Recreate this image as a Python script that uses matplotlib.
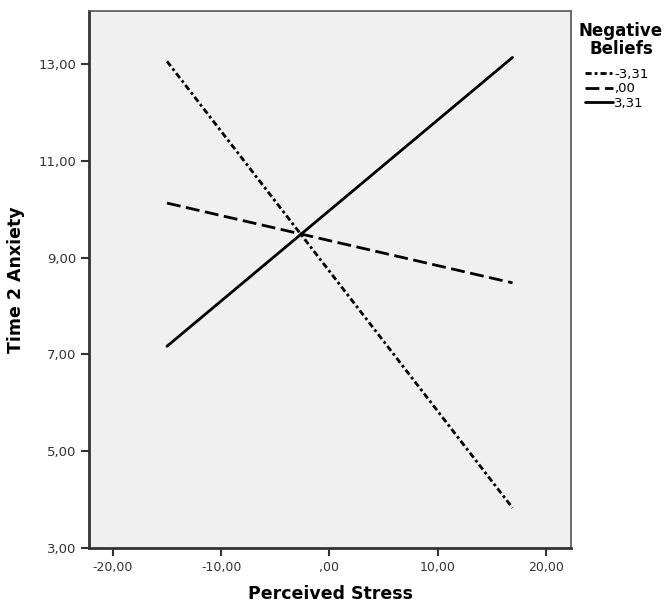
import matplotlib
matplotlib.use("Agg")
import matplotlib.pyplot as plt

# simple slopes: anxiety at low / mean / high negative beliefs
stress = [-15.0, 16.9]
groups = ["-3,31", ",00", "3,31"]
anxiety = {
    "-3,31": [13.06, 3.83],
    ",00": [10.13, 8.48],
    "3,31": [7.17, 13.14],
}
styles = {
    "-3,31": (0, (2.2, 1.1, 1.0, 1.1)),
    ",00": (0, (5, 2)),
    "3,31": "-",
}

xticks = [-20, -10, 0, 10, 20]
xticklabels = ["-20,00", "-10,00", ",00", "10,00", "20,00"]
yticks = [3, 5, 7, 9, 11, 13]
yticklabels = ["3,00", "5,00", "7,00", "9,00", "11,00", "13,00"]

plt.rcParams["font.family"] = ["DejaVu Sans"]

fig = plt.figure(figsize=(6.66, 6.05), dpi=100)
ax = fig.add_axes([89/666, 1-548/605, (571-89)/666, (548-11)/605])
ax.set_facecolor("#f0f0f0")

handles = []
for g in groups:
    h, = ax.plot(stress, anxiety[g], color="black", lw=2.0,
                 linestyle=styles[g], solid_capstyle="round",
                 dash_capstyle="butt")
    handles.append(h)

ax.set_xlim(-22.2, 22.3)
ax.set_ylim(3, 14.1)
ax.set_xticks(xticks)
ax.set_xticklabels(xticklabels)
ax.set_yticks(yticks)
ax.set_yticklabels(yticklabels)
ax.tick_params(direction="out", length=6, width=1.5, labelsize=9,
               colors="#333333", pad=3)
ax.tick_params(axis="y", labelsize=9.5)

for s in ["left", "bottom"]:
    ax.spines[s].set_linewidth(2)
    ax.spines[s].set_color("#333333")
for s in ["top", "right"]:
    ax.spines[s].set_linewidth(1.2)
    ax.spines[s].set_color("#555555")

ax.set_xlabel("Perceived Stress", fontsize=12.5, fontweight="bold", labelpad=8)
ax.set_ylabel("Time 2 Anxiety", fontsize=12.5, fontweight="bold", labelpad=10)

fig.text(621/666, 1-40/605, "Negative\nBeliefs", ha="center", va="center",
         fontsize=12, fontweight="bold", linespacing=1.0)
leg = fig.legend(handles, groups, loc="upper left",
                 bbox_to_anchor=(585/666, 1-68/605),
                 frameon=False, fontsize=9.5, handlelength=2.1,
                 handletextpad=0.1, labelspacing=0.1, borderaxespad=0,
                 borderpad=0)

fig.savefig("out.png", dpi=100)
